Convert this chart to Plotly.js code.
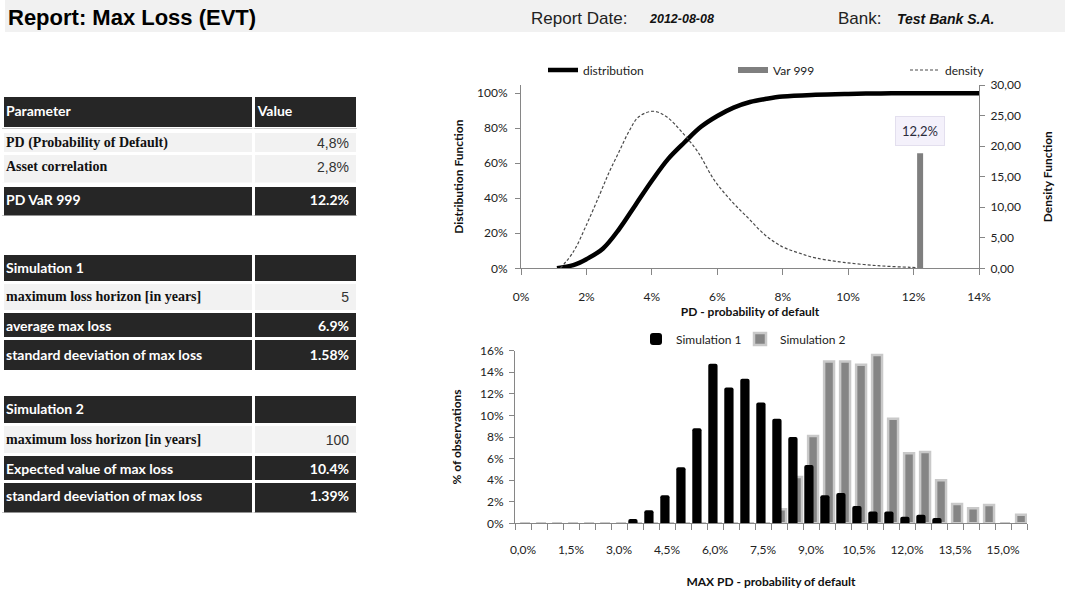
<!DOCTYPE html>
<html>
<head>
<meta charset="utf-8">
<script src="https://cdn.plot.ly/plotly-3.0.1.min.js"></script>
<style>
html,body{margin:0;padding:0;background:#ffffff;}
#chart{width:1065px;height:595px;}
</style>
</head>
<body>
<div id="chart"></div>
<script>
// ---------------- data ----------------
const reportTitle = 'Report: Max Loss (EVT)';
const reportDateLabel = 'Report Date:';
const reportDate = '2012-08-08';
const bankLabel = 'Bank:';
const bankName = 'Test Bank S.A.';

const paramHeader = ['Parameter', 'Value'];
const paramLabels = ['PD (Probability of Default)', 'Asset correlation'];
const paramValues = ['4,8%', '2,8%'];
const varLabels = ['PD VaR 999'];
const varValues = ['12.2%'];
const sim1Header = ['Simulation 1', ''];
const sim1HorizonLabels = ['maximum loss horizon [in years]'];
const sim1HorizonValues = ['5'];
const sim1StatLabels = ['average max loss', 'standard deeviation of max loss'];
const sim1StatValues = ['6.9%', '1.58%'];
const sim2Header = ['Simulation 2', ''];
const sim2HorizonLabels = ['maximum loss horizon [in years]'];
const sim2HorizonValues = ['100'];
const sim2StatLabels = ['Expected value of max loss', 'standard deeviation of max loss'];
const sim2StatValues = ['10.4%', '1.39%'];

// top chart: PD (in %) vs distribution function (in %) and density
const distPd  = [1.1, 1.6, 2.0, 2.5, 3.0, 3.5, 4.0, 4.5, 5.0, 5.5, 6.0, 6.5, 7.0, 7.5, 8.0, 9.0, 10.0, 11.0, 12.0, 14.0];
const distVal = [0, 1.8, 5.2, 11.2, 22.4, 36.2, 50.0, 62.5, 72.0, 80.8, 87.0, 91.8, 95.0, 96.8, 98.1, 99.1, 99.6, 99.9, 100, 100];
const densPd  = [1.2, 1.6, 2.0, 2.4, 2.7, 3.0, 3.3, 3.6, 4.05, 4.45, 4.9, 5.4, 5.9, 6.45, 6.95, 7.45, 8.0, 8.5, 9.0, 9.85, 10.9, 11.9, 12.1];
const densVal = [0, 2.7, 7.1, 12.0, 15.8, 19.1, 22.4, 24.8, 25.7, 24.8, 22.4, 19.1, 14.5, 10.9, 8.2, 5.5, 3.5, 2.5, 1.7, 0.98, 0.43, 0.16, 0.12];
const var999Pd = [12.2, 12.2];
const var999Height = [0, 18.85];

// bottom chart: histogram of max PD
const buckets = ['0,0%','0,5%','1,0%','1,5%','2,0%','2,5%','3,0%','3,5%','4,0%','4,5%','5,0%','5,5%','6,0%','6,5%','7,0%','7,5%',
                 '8,0%','8,5%','9,0%','9,5%','10,0%','10,5%','11,0%','11,5%','12,0%','12,5%','13,0%','13,5%','14,0%','14,5%','15,0%','15,5%'];
const sim1 = [0,0,0,0,0,0,0,0.4,1.2,2.6,5.2,8.8,14.8,12.6,13.4,11.2,9.7,8.0,5.4,2.6,2.8,1.6,1.1,1.1,0.6,0.8,0.5,0,0,0,0,0];
const sim2 = [0,0,0,0,0,0,0,0,0,0,0,0,0,0,0,0,1.3,4.3,8.1,15.0,15.0,14.7,15.6,9.7,6.5,6.6,4.0,1.8,1.4,1.7,0,0.8];

// ---------------- layout helpers ----------------
const W = 1065, H = 595;
const px = v => v / W;
const py = v => 1 - v / H;

const darkStyle = {fill: '#262626', font: {family: 'Lato', size: 14, color: '#ffffff'}};
const lightStyle = {fill: '#f2f2f2', font: {family: ['Liberation Serif', 'Liberation Sans'], size: [14, 14], color: ['#111111', '#333333']}};

// row geometry (top, height in px) of the table rows, in drawing order
const rowGeom = [];

// one table row = one header-only table
function rowTable(label, value, top, height, dark, valueAlign) {
  rowGeom.push({top: top, height: height});
  const st = dark ? darkStyle : lightStyle;
  const lab = label ? '<b>' + label + '</b>' : '';
  const val = (dark && value) ? '<b>' + value + '</b>' : value;
  return {
    type: 'table',
    domain: {x: [px(2), px(357)], y: [py(top + height + 4), py(top)]},
    columnwidth: [0.709, 0.291],
    header: {values: [[lab], [val]], height: height, align: ['left', valueAlign || 'right'],
             fill: {color: st.fill}, line: {color: '#ffffff', width: 3}, font: st.font},
    cells: {values: [[], []]}
  };
}

const tables = [
  rowTable(paramHeader[0], paramHeader[1], 95.5, 29, true, 'left'),
  rowTable(paramLabels[0], paramValues[0], 131, 22, false),
  rowTable(paramLabels[1], paramValues[1], 153.5, 25, false),
  rowTable(varLabels[0], varValues[0], 185.5, 26, true),
  rowTable(sim1Header[0], sim1Header[1], 253.5, 26, true),
  rowTable(sim1HorizonLabels[0], sim1HorizonValues[0], 282, 28, false),
  rowTable(sim1StatLabels[0], sim1StatValues[0], 311.5, 27, true),
  rowTable(sim1StatLabels[1], sim1StatValues[1], 338.5, 30, true),
  rowTable(sim2Header[0], sim2Header[1], 394.5, 27, true),
  rowTable(sim2HorizonLabels[0], sim2HorizonValues[0], 424, 30, false),
  rowTable(sim2StatLabels[0], sim2StatValues[0], 454.5, 27, true),
  rowTable(sim2StatLabels[1], sim2StatValues[1], 481.5, 27, true)
];

const axisColor = '#868686';

const traces = tables.concat([
  {type: 'scatter', mode: 'lines', name: 'distribution', x: distPd, y: distVal, xaxis: 'x', yaxis: 'y',
   line: {color: '#000000', width: 4.5, shape: 'spline'}, legend: 'legend', hoverinfo: 'skip'},
  {type: 'scatter', mode: 'lines', name: 'Var 999', x: var999Pd, y: var999Height, xaxis: 'x', yaxis: 'y2',
   line: {color: '#7f7f7f', width: 6}, legend: 'legend2', hoverinfo: 'skip'},
  {type: 'scatter', mode: 'lines', name: 'density', x: densPd, y: densVal, xaxis: 'x', yaxis: 'y2',
   line: {color: '#4a4a4a', width: 1.2, dash: '3px,2px', shape: 'spline'}, legend: 'legend3', hoverinfo: 'skip'},
  {type: 'bar', name: 'Simulation 2', x: buckets, y: sim2, xaxis: 'x2', yaxis: 'y3',
   width: 0.62, offset: -0.18, marker: {color: '#858585', line: {color: '#c9c9c9', width: 2.5}},
   legend: 'legend5', hoverinfo: 'skip'},
  {type: 'bar', name: 'Simulation 1', x: buckets, y: sim1, xaxis: 'x2', yaxis: 'y3',
   width: 0.58, offset: -0.42, marker: {color: '#000000', cornerradius: 2},
   legend: 'legend4', hoverinfo: 'skip'}
]);

const tickFont = {family: 'Lato', size: 12, color: '#222222'};
const titleFont = {family: 'Lato', size: 12, color: '#111111', weight: 'bold'};
const legendFont = {family: 'Lato', size: 12, color: '#222222'};
function legendAt(xpx, ypx) {
  return {orientation: 'h', x: px(xpx), xanchor: 'left', y: py(ypx), yanchor: 'middle',
          font: legendFont, bgcolor: 'rgba(0,0,0,0)', borderwidth: 0};
}

const headerFont = 'Liberation Sans Narrow, Liberation Sans';

const layout = {
  width: W, height: H,
  margin: {l: 0, r: 0, t: 0, b: 0},
  paper_bgcolor: '#ffffff', plot_bgcolor: 'rgba(0,0,0,0)',
  separators: ',.',
  font: {family: 'Lato', size: 12, color: '#222222'},
  barmode: 'overlay',
  showlegend: true,
  xaxis: {domain: [px(521), px(979)], anchor: 'y', range: [0, 14], dtick: 2, tick0: 0, ticksuffix: '%',
          showgrid: false, zeroline: false, showline: true, linecolor: axisColor, linewidth: 1,
          ticks: 'outside', ticklen: 6, tickcolor: axisColor, tickfont: tickFont, ticklabelstandoff: 11,
          title: {text: 'PD - probability of default', font: titleFont, standoff: 4}, fixedrange: true},
  yaxis: {domain: [py(268.3), py(85)], anchor: 'x', range: [0, 104.7], dtick: 20, tick0: 0, ticksuffix: '%',
          showgrid: false, zeroline: false, showline: true, linecolor: axisColor, linewidth: 1,
          ticks: 'outside', ticklen: 5, tickcolor: axisColor, tickfont: tickFont, ticklabelstandoff: 5,
          title: {text: 'Distribution Function', font: titleFont, standoff: 10}, fixedrange: true},
  yaxis2: {overlaying: 'y', side: 'right', anchor: 'x', range: [0, 30], dtick: 5, tick0: 0, tickformat: '.2f',
           showgrid: false, zeroline: false, showline: true, linecolor: axisColor, linewidth: 1,
           ticks: 'outside', ticklen: 5, tickcolor: axisColor, tickfont: tickFont, ticklabelstandoff: 3,
           title: {text: 'Density Function', font: titleFont, standoff: 23}, fixedrange: true},
  xaxis2: {domain: [px(515), px(1027)], anchor: 'y3', type: 'category',
           tickmode: 'array', tickvals: buckets, ticktext: buckets.map((b, i) => i % 3 === 0 ? b : ''),
           tickson: 'boundaries', tickangle: 0, showgrid: false, zeroline: false, showline: true,
           linecolor: axisColor, linewidth: 1,
           ticks: 'outside', ticklen: 6, tickcolor: axisColor, tickfont: tickFont, ticklabelstandoff: 15,
           title: {text: 'MAX PD - probability of default', font: titleFont, standoff: 21}, fixedrange: true},
  yaxis3: {domain: [py(523.3), py(350.7)], anchor: 'x2', range: [0, 16], dtick: 2, tick0: 0, ticksuffix: '%',
           showgrid: false, zeroline: false, showline: true, linecolor: axisColor, linewidth: 1,
           ticks: 'outside', ticklen: 5, tickcolor: axisColor, tickfont: tickFont, ticklabelstandoff: 3,
           title: {text: '% of observations', font: titleFont, standoff: 15}, fixedrange: true},
  legend: legendAt(543, 70),
  legend2: legendAt(733, 70),
  legend3: legendAt(905, 70),
  legend4: legendAt(636, 339),
  legend5: legendAt(740, 339),
  shapes: [
    {type: 'rect', xref: 'paper', yref: 'paper', x0: px(5), x1: 1, y0: py(32), y1: 1,
     fillcolor: '#f1f1f1', line: {width: 0}, layer: 'below'}
  ],
  annotations: [
    {xref: 'paper', yref: 'paper', x: px(6), y: py(17), xanchor: 'left', yanchor: 'middle', showarrow: false,
     text: '<b>' + reportTitle + '</b>', font: {family: headerFont, size: 22, color: '#000'}},
    {xref: 'paper', yref: 'paper', x: px(529), y: py(18), xanchor: 'left', yanchor: 'middle', showarrow: false,
     text: reportDateLabel, font: {family: headerFont, size: 17, color: '#222'}},
    {xref: 'paper', yref: 'paper', x: px(647), y: py(19), xanchor: 'left', yanchor: 'middle', showarrow: false,
     text: '<b><i>' + reportDate + '</i></b>', font: {family: headerFont, size: 12.5, color: '#111'}},
    {xref: 'paper', yref: 'paper', x: px(836), y: py(18), xanchor: 'left', yanchor: 'middle', showarrow: false,
     text: bankLabel, font: {family: headerFont, size: 17, color: '#222'}},
    {xref: 'paper', yref: 'paper', x: px(895), y: py(19), xanchor: 'left', yanchor: 'middle', showarrow: false,
     text: '<b><i>' + bankName + '</i></b>', font: {family: headerFont, size: 14, color: '#111'}},
    {xref: 'x', yref: 'y2', x: var999Pd[1], y: var999Height[1], xanchor: 'center', yanchor: 'bottom', yshift: 7,
     showarrow: false, text: String(var999Pd[1]).replace('.', ',') + '%',
     bgcolor: '#f4f1fb', bordercolor: '#e3dfee', borderwidth: 1, borderpad: 6,
     font: {family: 'Lato', size: 13, color: '#2b2b3b'}}
  ]
};

// centre the table texts vertically inside their rows (Plotly puts them at a fixed top padding)
function centreTableText(gd) {
  const gdTop = gd.getBoundingClientRect().top;
  const views = gd.querySelectorAll('.table-control-view');
  views.forEach(function (view, i) {
    const g = rowGeom[i];
    if (!g) return;
    const targetMid = g.top + g.height / 2 + 0.5;
    view.querySelectorAll('.cell-text-holder').forEach(function (holder) {
      const text = holder.querySelector('text') || holder;
      const r = text.getBoundingClientRect();
      if (!r.height) return;
      const mid = r.top - gdTop + r.height / 2;
      const m = holder.transform.baseVal.consolidate();
      let tx = m ? m.matrix.e : 0;
      const ty = (m ? m.matrix.f : 0) + (targetMid - mid);
      const cellRect = holder.parentNode.querySelector('.cell-rect');
      const cw = cellRect ? cellRect.getBoundingClientRect().width : 200;
      if (tx < cw / 2) tx -= 4;
      holder.setAttribute('transform', 'translate(' + tx + ',' + ty + ')');
    });
  });
}

Plotly.newPlot('chart', traces, layout, {staticPlot: true, displayModeBar: false}).then(centreTableText);
</script>
</body>
</html>
